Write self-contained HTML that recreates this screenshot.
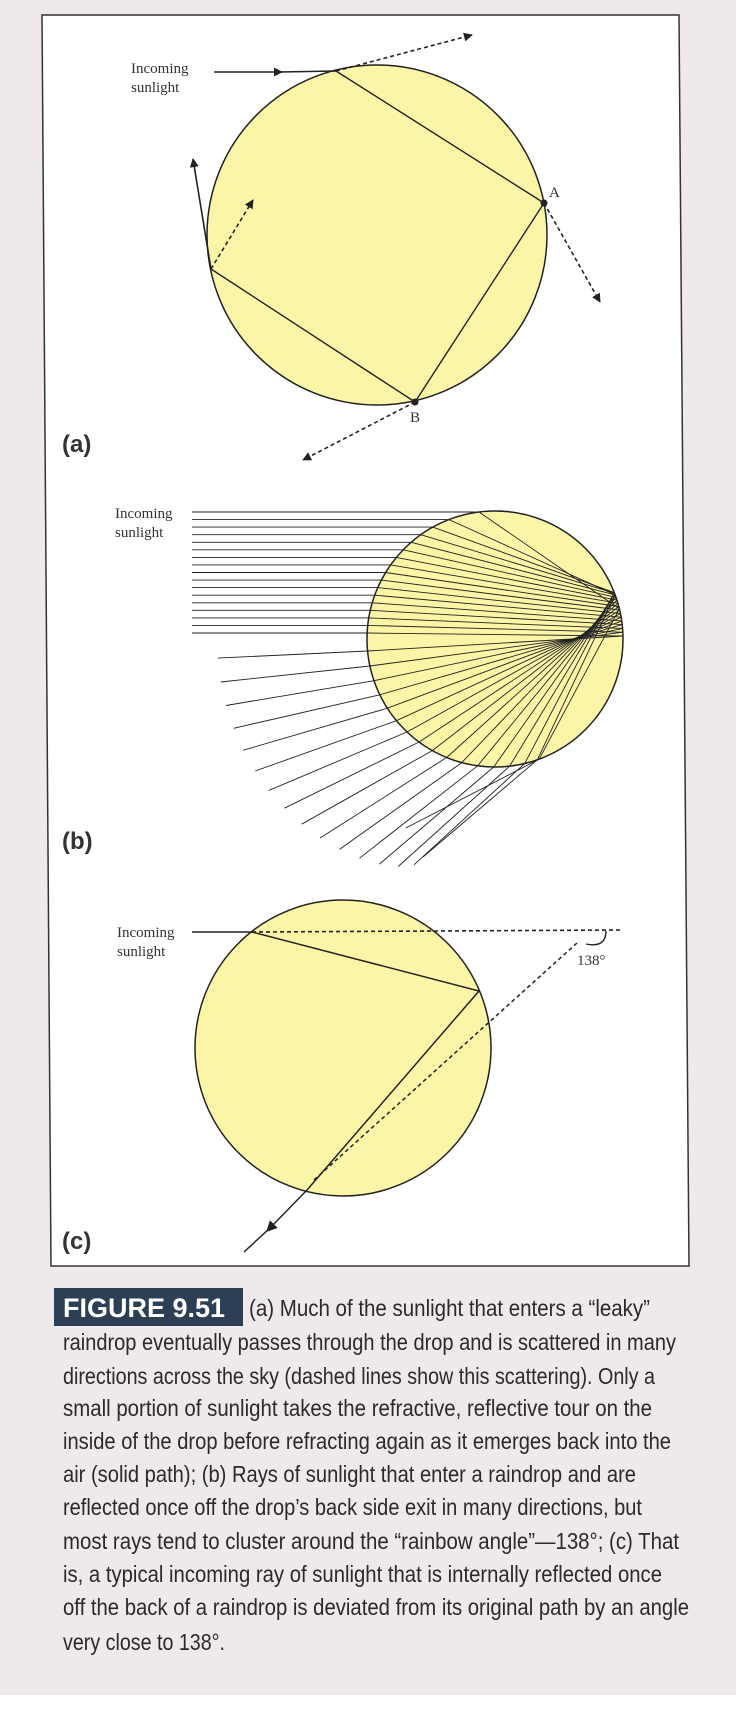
<!DOCTYPE html>
<html><head><meta charset="utf-8"><style>
html,body{margin:0;padding:0;background:#fff;}
svg{display:block;}
.s{font-family:"Liberation Serif",serif;font-size:15px;fill:#333;}
.c{font-family:"Liberation Sans Narrow","Liberation Sans",sans-serif;font-size:23px;fill:#2a2a2a;}
.lb{font-family:"Liberation Sans",sans-serif;font-size:24px;font-weight:bold;fill:#333;}
</style></head><body>
<svg id="sv" width="736" height="1728" viewBox="0 0 736 1728" xmlns="http://www.w3.org/2000/svg">
<defs>
<marker id="ah" viewBox="0 0 10 10" refX="9" refY="5" markerWidth="9" markerHeight="9" orient="auto-start-reverse" markerUnits="userSpaceOnUse"><path d="M0,0 L10,5 L0,10 z" fill="#222"/></marker>
<marker id="am" viewBox="0 0 10 10" refX="5" refY="5" markerWidth="11" markerHeight="11" orient="auto" markerUnits="userSpaceOnUse"><path d="M0,0 L10,5 L0,10 z" fill="#222"/></marker>
</defs>
<rect width="736" height="1728" fill="#efe9ec"/>
<rect x="0" y="1695" width="736" height="33" fill="#fff"/>
<polygon points="42,15 679,15 689,1266 51,1266" fill="#fff" stroke="#333" stroke-width="1.5"/>

<!-- Panel a -->
<circle cx="377" cy="235" r="170" fill="#fbf5a8" stroke="#222" stroke-width="1.5"/>
<text class="s" x="131" y="73">Incoming</text>
<text class="s" x="131" y="92">sunlight</text>
<line x1="214" y1="72" x2="282" y2="72" stroke="#222" stroke-width="1.6" marker-end="url(#ah)"/>
<line x1="280" y1="72" x2="336" y2="71" stroke="#222" stroke-width="1.6"/>
<line x1="336" y1="71" x2="472" y2="35" stroke="#222" stroke-width="1.6" stroke-dasharray="4,3" marker-end="url(#ah)"/>
<polyline points="336,71 544,203 415,402 211,269" fill="none" stroke="#222" stroke-width="1.4"/>
<line x1="211" y1="269" x2="193" y2="159" stroke="#222" stroke-width="1.6" marker-end="url(#ah)"/>
<line x1="211" y1="269" x2="253" y2="200" stroke="#222" stroke-width="1.6" stroke-dasharray="4,3" marker-end="url(#ah)"/>
<line x1="544" y1="203" x2="600" y2="302" stroke="#222" stroke-width="1.6" stroke-dasharray="4,3" marker-end="url(#ah)"/>
<line x1="415" y1="402" x2="303" y2="460" stroke="#222" stroke-width="1.6" stroke-dasharray="4,3" marker-end="url(#ah)"/>
<circle cx="544" cy="203" r="3.5" fill="#222"/>
<circle cx="415" cy="402" r="3.5" fill="#222"/>
<text class="s" x="549" y="197" font-size="13">A</text>
<text class="s" x="410" y="422" font-size="13">B</text>
<text class="lb" x="62" y="452">(a)</text>

<!-- Panel b -->
<circle cx="495" cy="639" r="128" fill="#fbf5a8" stroke="#222" stroke-width="1.5"/>
<g id="rays" stroke="#222" stroke-width="0.9" fill="none"></g>
<text class="s" x="115" y="518">Incoming</text>
<text class="s" x="115" y="537">sunlight</text>
<text class="lb" x="62" y="849">(b)</text>

<!-- Panel c -->
<circle cx="343" cy="1048" r="148" fill="#fbf5a8" stroke="#222" stroke-width="1.5"/>
<text class="s" x="117" y="937">Incoming</text>
<text class="s" x="117" y="956">sunlight</text>
<line x1="192" y1="932" x2="252" y2="932" stroke="#222" stroke-width="1.6"/>
<line x1="252" y1="932" x2="621" y2="930" stroke="#222" stroke-width="1.6" stroke-dasharray="4,3"/>
<polyline points="252,932 479,991 307,1190" fill="none" stroke="#222" stroke-width="1.5"/>
<line x1="307" y1="1190" x2="270" y2="1228" stroke="#222" stroke-width="1.5" marker-end="url(#am)"/>
<line x1="270" y1="1228" x2="244" y2="1252" stroke="#222" stroke-width="1.5"/>
<line x1="577" y1="943" x2="314" y2="1180" stroke="#222" stroke-width="1.5" stroke-dasharray="4,3"/>
<path d="M606,931 Q606,948 586,944" fill="none" stroke="#222" stroke-width="1.4"/>
<text class="s" x="577" y="965" font-size="13">138°</text>
<text class="lb" x="62" y="1249">(c)</text>

<!-- Caption -->
<rect x="54" y="1288" width="189" height="38" fill="#2c3f55"/>
<text x="63" y="1317" font-family="Liberation Sans Narrow,Liberation Sans,sans-serif" font-weight="bold" font-size="27" fill="#fff" textLength="162" lengthAdjust="spacingAndGlyphs">FIGURE 9.51</text>
<text class="c" x="249" y="1316" textLength="401" lengthAdjust="spacingAndGlyphs">(a) Much of the sunlight that enters a “leaky”</text>
<text class="c" x="63" y="1350" textLength="613" lengthAdjust="spacingAndGlyphs">raindrop eventually passes through the drop and is scattered in many</text>
<text class="c" x="63" y="1384" textLength="592" lengthAdjust="spacingAndGlyphs">directions across the sky (dashed lines show this scattering). Only a</text>
<text class="c" x="63" y="1416" textLength="589" lengthAdjust="spacingAndGlyphs">small portion of sunlight takes the refractive, reflective tour on the</text>
<text class="c" x="63" y="1449" textLength="608" lengthAdjust="spacingAndGlyphs">inside of the drop before refracting again as it emerges back into the</text>
<text class="c" x="63" y="1482" textLength="573" lengthAdjust="spacingAndGlyphs">air (solid path); (b) Rays of sunlight that enter a raindrop and are</text>
<text class="c" x="63" y="1515" textLength="579" lengthAdjust="spacingAndGlyphs">reflected once off the drop’s back side exit in many directions, but</text>
<text class="c" x="63" y="1549" textLength="616" lengthAdjust="spacingAndGlyphs">most rays tend to cluster around the “rainbow angle”—138°; (c) That</text>
<text class="c" x="63" y="1582" textLength="599" lengthAdjust="spacingAndGlyphs">is, a typical incoming ray of sunlight that is internally reflected once</text>
<text class="c" x="63" y="1615" textLength="626" lengthAdjust="spacingAndGlyphs">off the back of a raindrop is deviated from its original path by an angle</text>
<text class="c" x="63" y="1650" textLength="162" lengthAdjust="spacingAndGlyphs">very close to 138°.</text>
</svg>
<script>
(function(){
var g=document.getElementById('rays'),cx=495,cy=639,R=128,n=1.33;
function add(x1,y1,x2,y2){var l=document.createElementNS('http://www.w3.org/2000/svg','line');l.setAttribute('x1',x1.toFixed(1));l.setAttribute('y1',y1.toFixed(1));l.setAttribute('x2',x2.toFixed(1));l.setAttribute('y2',y2.toFixed(1));g.appendChild(l);}
function refr(d,nv,eta){var ci=-(d[0]*nv[0]+d[1]*nv[1]);var s2=eta*eta*(1-ci*ci);if(s2>1)return null;var k=eta*ci-Math.sqrt(1-s2);return [eta*d[0]+k*nv[0],eta*d[1]+k*nv[1]];}
function nxt(P,t){var dx=P[0]-cx,dy=P[1]-cy;var s=-2*(dx*t[0]+dy*t[1]);return [P[0]+s*t[0],P[1]+s*t[1]];}
for(var i=0;i<17;i++){
 var y=512+i*(121/16);var d=cy-y;var x=cx-Math.sqrt(R*R-d*d);
 add(192,y,x,y);
 var P1=[x,y],no=[(x-cx)/R,(y-cy)/R];
 var t=refr([1,0],no,1/n);var P2=nxt(P1,t);
 var m=[(P2[0]-cx)/R,(P2[1]-cy)/R];var dt=t[0]*m[0]+t[1]*m[1];
 var r=[t[0]-2*dt*m[0],t[1]-2*dt*m[1]];var P3=nxt(P2,r);
 var m3=[(P3[0]-cx)/R,(P3[1]-cy)/R];
 var e=refr(r,[-m3[0],-m3[1]],n)||r;
 add(P1[0],P1[1],P2[0],P2[1]);add(P2[0],P2[1],P3[0],P3[1]);
 var L=150;
 add(P3[0],P3[1],P3[0]+e[0]*L,P3[1]+e[1]*L);
}
})();
</script>
</body></html>
